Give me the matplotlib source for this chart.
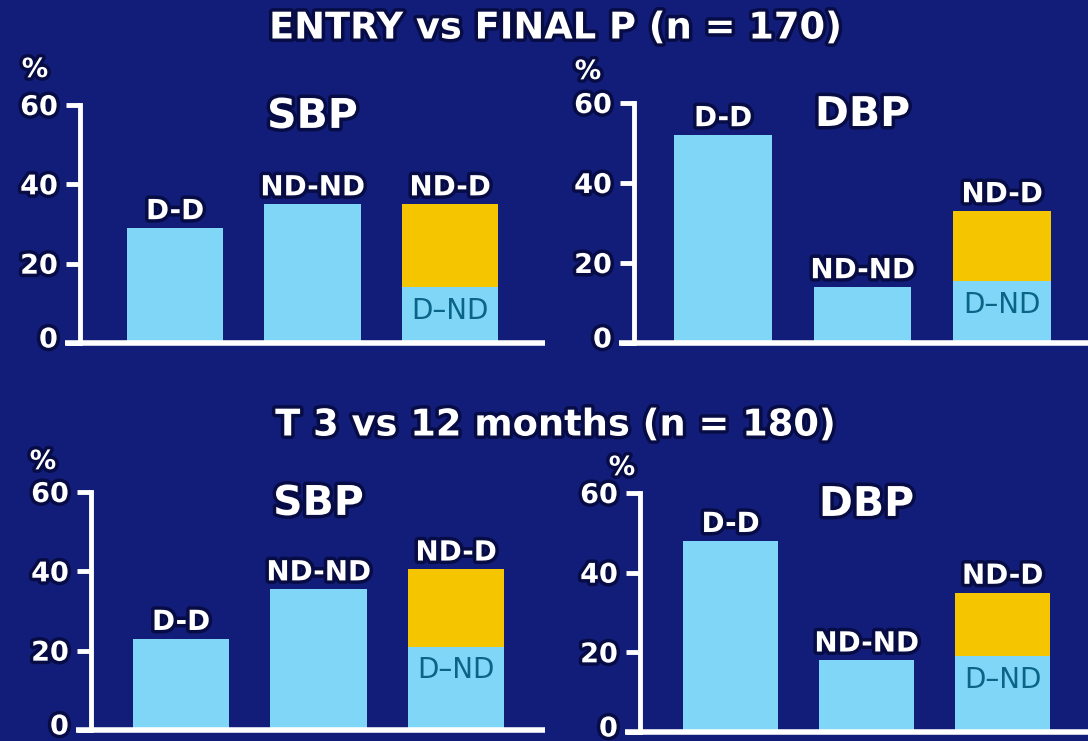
import matplotlib.pyplot as plt
import matplotlib.patheffects as pe
from matplotlib.transforms import ScaledTranslation

# change in BP category between two measurements, % of patients
groups = ["D-D", "ND-ND"]
entry_sbp = [29, 35]
entry_dbp = [52, 14]
t3_sbp = [23, 35.5]
t3_dbp = [48, 18]
# third bar is stacked: D-ND at the bottom, ND-D on top
entry_sbp_stack = [14, 21]
entry_dbp_stack = [15.5, 17.5]
t3_sbp_stack = [21, 19.5]
t3_dbp_stack = [19, 16]

yticks = [0, 20, 40, 60]

BG = "#111d79"
BLUE = "#7fd6f6"
YELLOW = "#f5c500"
TEAL = "#0a6488"
W, H = 1088, 741

plt.rcParams["font.family"] = ["DejaVu Sans"]
outline = [pe.withStroke(linewidth=5, foreground="#070c45")]

fig = plt.figure(figsize=(W / 100, H / 100), dpi=100, facecolor=BG)

# pixel layout: axis left, axis right, y=0 row, y=60 row, centre of first bar, bar spacing, % label pos
panels = [
    ("SBP", entry_sbp, entry_sbp_stack, (80, 545, 343, 105, 175, 137.5, (35, 70))),
    ("DBP", entry_dbp, entry_dbp_stack, (634, 1088, 343, 103, 723, 139.5, (588, 72))),
    ("SBP", t3_sbp, t3_sbp_stack, (91, 545, 730, 492, 181, 137.5, (43, 462))),
    ("DBP", t3_dbp, t3_dbp_stack, (640, 1088, 732, 493, 730.5, 136, (622, 468))),
]

for name, vals, stack, (left, right, y0, y60, c0, step, pct) in panels:
    ax = fig.add_axes([left / W, (H - y0) / H, (right - left) / W, (y0 - y60) / H])
    ax.set_facecolor("none")
    x0 = -(c0 - left) / step
    ax.set_xlim(x0, x0 + (right - left) / step)
    ax.set_ylim(0, 60)

    ax.bar([0, 1], vals, width=0.7, color=BLUE, edgecolor="none")
    ax.bar(2, stack[0], width=0.7, color=BLUE, edgecolor="none")
    ax.bar(2, stack[1], bottom=stack[0], width=0.7, color=YELLOW, edgecolor="none")

    tops = vals + [stack[0] + stack[1]]
    for i, (lab, top) in enumerate(zip(groups + ["ND-D"], tops)):
        ax.annotate(lab, (i, top), xytext=(0, 2), textcoords="offset points",
                    ha="center", va="bottom", color="white", fontsize=20,
                    fontweight="bold", path_effects=outline)
    ax.annotate("D\u2013ND", (2, stack[0]), xytext=(0, -7), textcoords="offset points",
                ha="center", va="top", color=TEAL, fontsize=20)

    ax.text(1, 57, name, ha="center", va="center", color="white", fontsize=29.5,
            fontweight="bold", path_effects=outline)

    for s in ["top", "right", "bottom"]:
        ax.spines[s].set_visible(False)
    ax.spines["left"].set_color("white")
    ax.spines["left"].set_linewidth(3.5)
    tick_frac = 15 / (right - left)
    ax.plot([-tick_frac, 1], [0, 0], transform=ax.transAxes, clip_on=False,
            color="white", lw=4, solid_capstyle="butt")

    ax.set_xticks([])
    ax.set_yticks(yticks, labels=[str(v) for v in yticks])
    ax.tick_params(axis="y", colors="white", length=10, width=3.5, pad=6,
                   labelsize=19.5)
    labels = ax.get_yticklabels()
    for t in labels:
        t.set_fontweight("bold")
        t.set_path_effects(outline)
    # the zero sits a little above the thick baseline
    labels[0].set_transform(labels[0].get_transform()
                            + ScaledTranslation(0, 4 / 72, fig.dpi_scale_trans))

    fig.text(pct[0] / W, 1 - pct[1] / H, "%", ha="center", va="center",
             color="white", fontsize=19, fontweight="bold", path_effects=outline)

fig.text(555 / W, 1 - 28 / H, "ENTRY vs FINAL P (n = 170)", ha="center", va="center",
         color="white", fontsize=26.5, fontweight="bold", path_effects=outline)
fig.text(555 / W, 1 - 425 / H, "T 3 vs 12 months (n = 180)", ha="center", va="center",
         color="white", fontsize=26.5, fontweight="bold", path_effects=outline)

fig.savefig("out.png", dpi=100, facecolor=BG)
